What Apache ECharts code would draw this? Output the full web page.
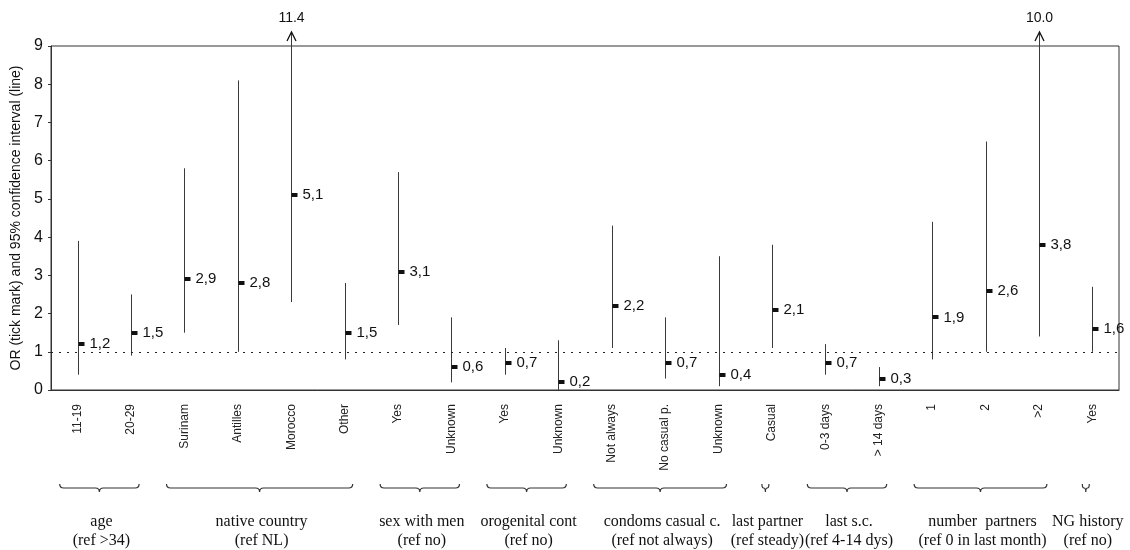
<!DOCTYPE html>
<html>
<head>
<meta charset="utf-8">
<script src="https://cdn.jsdelivr.net/npm/echarts@6/dist/echarts.min.js"></script>
<style>
  html, body { margin: 0; padding: 0; background: #fff; }
  #chart { width: 1130px; height: 550px; }
</style>
</head>
<body>
<div id="chart"></div>
<script>
// Risk factors: odds ratio with its 95% confidence interval per category
const categories = ['11-19', '20-29', 'Surinam', 'Antilles', 'Morocco', 'Other', 'Yes', 'Unknown',
  'Yes', 'Unknown', 'Not always', 'No casual p.', 'Unknown', 'Casual', '0-3 days', '> 14 days',
  '1', '2', '>2', 'Yes'];
const oddsRatio = [1.2, 1.5, 2.9, 2.8, 5.1, 1.5, 3.1, 0.6, 0.7, 0.2, 2.2, 0.7, 0.4, 2.1, 0.7, 0.3, 1.9, 2.6, 3.8, 1.6];
const ciLow  = [0.4, 0.9, 1.5, 1.0, 2.3, 0.8, 1.7, 0.2, 0.4, 0.0, 1.1, 0.3, 0.1, 1.1, 0.4, 0.1, 0.8, 1.0, 1.4, 1.0];
const ciHigh = [3.9, 2.5, 5.8, 8.1, 11.4, 2.8, 5.7, 1.9, 1.1, 1.3, 4.3, 1.9, 3.5, 3.8, 1.2, 0.6, 4.4, 6.5, 10.0, 2.7];

// Variable groups (first and last category index of each)
const groupNames = ['age', 'native country', 'sex with men', 'orogenital cont', 'condoms casual c.',
  'last partner', 'last s.c.', 'number  partners', 'NG history'];
const groupRefs = ['(ref >34)', '(ref NL)', '(ref no)', '(ref no)', '(ref not always)',
  '(ref steady)', '(ref 4-14 dys)', '(ref 0 in last month)', '(ref no)'];
const groupFirst = [0, 2, 6, 8, 10, 13, 14, 16, 19];
const groupLast  = [1, 5, 7, 9, 12, 13, 15, 18, 19];

const yMin = 0, yMax = 9, yStep = 1;
const referenceOR = 1;

const sans = '"Liberation Sans", Arial, sans-serif';
const serif = '"Liberation Serif", "Times New Roman", serif';

const fmtComma = v => v.toFixed(1).replace('.', ',');

const markData = categories.map((c, i) => [i, ciLow[i], oddsRatio[i], ciHigh[i]]);
const groupData = groupFirst.map((f, k) => [f, groupLast[k]]);

// CI line, OR tick with its value, and an arrow when the upper limit runs off the scale
function renderInterval(params, api) {
  const i = api.value(0);
  const lo = api.value(1), or = api.value(2), hi = api.value(3);
  const x = Math.round(api.coord([i, 0])[0]) + 0.5;
  const yLo = api.coord([i, lo])[1];
  const yOr = api.coord([i, or])[1];
  const capped = hi > yMax;
  const yHi = capped ? api.coord([i, yMax])[1] - 14 : api.coord([i, hi])[1];
  const children = [
    { type: 'line', shape: { x1: x, y1: yLo, x2: x, y2: yHi },
      style: { stroke: '#3a3a3a', lineWidth: 1 } },
    { type: 'rect', shape: { x: x, y: Math.round(yOr) - 2, width: 6, height: 4 },
      style: { fill: '#111' } },
    { type: 'text', style: { text: fmtComma(or), x: x + 11, y: yOr, align: 'left', verticalAlign: 'middle',
      fontSize: 15, fontFamily: sans, fill: '#111' } }
  ];
  if (capped) {
    children.push({ type: 'polyline', shape: { points: [[x - 4.5, yHi + 9], [x, yHi], [x + 4.5, yHi + 9]] },
      style: { stroke: '#111', lineWidth: 1.3, fill: 'none' } });
    children.push({ type: 'text', style: { text: hi.toFixed(1), x: x, y: yHi - 14, align: 'center',
      verticalAlign: 'middle', fontSize: 14, fontFamily: sans, fill: '#111' } });
  }
  return { type: 'group', children };
}

// Curly brace under each group of categories, with the group caption
function renderBrace(params, api) {
  const k = params.dataIndex;
  const f = api.value(0), l = api.value(1);
  const base = api.coord([f, yMin]);
  const xf = api.coord([f, yMin])[0];
  const xl = api.coord([l, yMin])[0];
  let x0, x1;
  if (f === l) { x0 = xf - 10; x1 = xf - 3; } else { x0 = xf - 18; x1 = xl + 8; }
  const y = base[1] + 98;
  const xc = (x0 + x1) / 2;
  const h = Math.min(4, (x1 - x0) / 4);
  const path = 'M' + x0 + ',' + (y - 4) +
    ' Q' + x0 + ',' + y + ' ' + (x0 + h) + ',' + y +
    ' L' + (xc - h) + ',' + y +
    ' Q' + xc + ',' + y + ' ' + xc + ',' + (y + 4) +
    ' Q' + xc + ',' + y + ' ' + (xc + h) + ',' + y +
    ' L' + (x1 - h) + ',' + y +
    ' Q' + x1 + ',' + y + ' ' + x1 + ',' + (y - 4);
  return {
    type: 'group',
    children: [
      { type: 'path', shape: { pathData: path }, style: { stroke: '#333', lineWidth: 1.2, fill: 'none' } },
      { type: 'text', style: { text: groupNames[k] + '\n' + groupRefs[k], x: xc + 2, y: y + 24,
        align: 'center', verticalAlign: 'top', fontSize: 16, lineHeight: 19, fontFamily: serif, fill: '#111' } }
    ]
  };
}

const chart = echarts.init(document.getElementById('chart'), null, { renderer: 'canvas' });
chart.setOption({
  animation: false,
  backgroundColor: '#fff',
  grid: { left: 51, right: 11, top: 46, bottom: 160, show: true, borderColor: '#333', borderWidth: 1 },
  xAxis: {
    type: 'category',
    data: categories,
    boundaryGap: true,
    axisLine: { lineStyle: { color: '#333', width: 1 } },
    axisTick: { show: false },
    axisLabel: { interval: 0, rotate: 90, margin: 14, fontSize: 12, fontFamily: sans, color: '#222' }
  },
  yAxis: {
    type: 'value',
    min: yMin, max: yMax, interval: yStep,
    name: 'OR (tick mark) and 95% confidence interval (line)',
    nameLocation: 'middle',
    nameGap: 24,
    nameTextStyle: { fontSize: 14, fontFamily: sans, color: '#111' },
    splitLine: { show: false },
    axisLine: { show: true, lineStyle: { color: '#333', width: 1 } },
    axisTick: { show: true, length: 3, lineStyle: { color: '#333' } },
    axisLabel: { fontSize: 16, fontFamily: sans, color: '#111', margin: 8 }
  },
  series: [
    {
      type: 'custom',
      clip: false,
      renderItem: renderInterval,
      encode: { x: 0, y: [1, 2, 3] },
      data: markData,
      markLine: {
        silent: true,
        symbol: 'none',
        label: { show: false },
        lineStyle: { color: '#222', width: 1, type: [2, 6] },
        data: [{ yAxis: referenceOR }]
      }
    },
    {
      type: 'custom',
      clip: false,
      renderItem: renderBrace,
      encode: { x: [0, 1] },
      data: groupData
    }
  ]
});
</script>
</body>
</html>
